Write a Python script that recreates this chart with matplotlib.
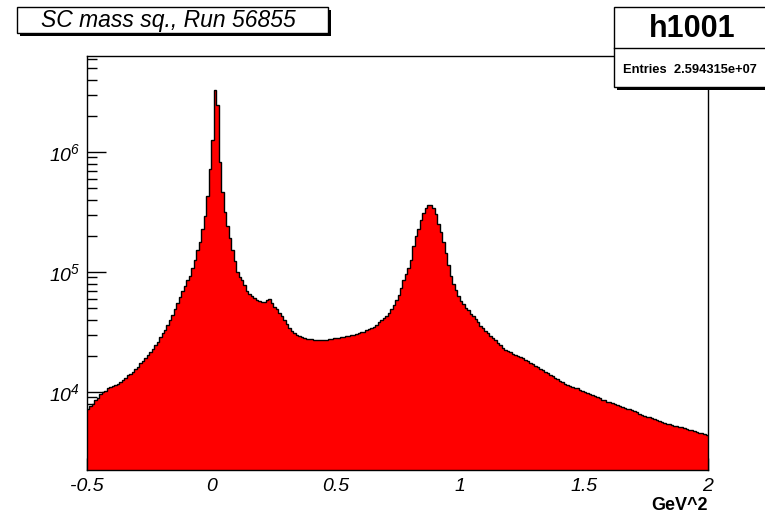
import matplotlib
matplotlib.use("Agg")
import matplotlib.pyplot as plt
import matplotlib.ticker as mticker
from matplotlib.patches import Rectangle
import numpy as np

plt.rcParams['font.family'] = ['Liberation Sans', 'DejaVu Sans']
plt.rcParams['mathtext.fontset'] = 'custom'
plt.rcParams['mathtext.it'] = 'Liberation Sans:italic'
plt.rcParams['mathtext.rm'] = 'Liberation Sans:italic'
plt.rcParams['mathtext.default'] = 'it'

# histogram h1001: 250 bins of 0.01 GeV^2 from -0.5 to 2, log10 of bin contents
x_low = -0.5
x_high = 2.0
log_counts = [
    3.86, 3.88, 3.90, 3.93, 3.95, 3.98, 4.00, 4.01, 4.03, 4.04,
    4.05, 4.06, 4.07, 4.08, 4.10, 4.12, 4.14, 4.15, 4.17, 4.19,
    4.21, 4.24, 4.26, 4.28, 4.31, 4.335, 4.36, 4.39, 4.42, 4.46,
    4.49, 4.52, 4.56, 4.60, 4.64, 4.69, 4.74, 4.79, 4.84, 4.88,
    4.93, 4.97, 5.03, 5.10, 5.18, 5.25, 5.36, 5.47, 5.63, 5.86,
    6.10, 6.52, 6.39, 5.92, 5.67, 5.50, 5.38, 5.28, 5.18, 5.09,
    5.00, 4.96, 4.93, 4.89, 4.84, 4.82, 4.80, 4.78, 4.767, 4.76,
    4.75, 4.75, 4.767, 4.775, 4.74, 4.71, 4.69, 4.66, 4.63, 4.60,
    4.57, 4.53, 4.51, 4.49, 4.475, 4.465, 4.455, 4.447, 4.443, 4.44,
    4.438, 4.435, 4.433, 4.432, 4.432, 4.433, 4.435, 4.438, 4.442, 4.446,
    4.449, 4.453, 4.457, 4.461, 4.464, 4.468, 4.471, 4.475, 4.482, 4.489,
    4.496, 4.503, 4.513, 4.523, 4.533, 4.544, 4.56, 4.58, 4.60, 4.615,
    4.63, 4.66, 4.69, 4.725, 4.77, 4.81, 4.87, 4.93, 4.98, 5.03,
    5.10, 5.22, 5.30, 5.36, 5.43, 5.49, 5.53, 5.555, 5.56, 5.53,
    5.48, 5.40, 5.33, 5.25, 5.16, 5.06, 4.97, 4.90, 4.85, 4.80,
    4.76, 4.73, 4.70, 4.68, 4.65, 4.63, 4.61, 4.58, 4.55, 4.53,
    4.51, 4.49, 4.47, 4.45, 4.43, 4.41, 4.39, 4.37, 4.35, 4.34,
    4.33, 4.32, 4.31, 4.30, 4.29, 4.28, 4.27, 4.26, 4.24, 4.23,
    4.22, 4.21, 4.19, 4.18, 4.17, 4.16, 4.14, 4.13, 4.12, 4.11,
    4.09, 4.08, 4.07, 4.06, 4.05, 4.04, 4.035, 4.03, 4.02, 4.01,
    4.00, 3.99, 3.985, 3.975, 3.97, 3.96, 3.95, 3.935, 3.93, 3.92,
    3.915, 3.905, 3.90, 3.89, 3.885, 3.875, 3.87, 3.86, 3.855, 3.85,
    3.84, 3.83, 3.815, 3.81, 3.80, 3.795, 3.79, 3.78, 3.775, 3.765,
    3.76, 3.75, 3.745, 3.735, 3.73, 3.725, 3.72, 3.715, 3.71, 3.705,
    3.70, 3.69, 3.685, 3.68, 3.675, 3.67, 3.66, 3.655, 3.65, 3.64,
]
title = "SC mass sq., Run 56855"
hist_name = "h1001"
entries = "2.594315e+07"
x_label = "GeV^2"

counts = 10 ** np.array(log_counts)
edges = np.linspace(x_low, x_high, len(counts) + 1)

W, H = 765, 515
fig = plt.figure(figsize=(W / 100, H / 100), dpi=100)
ax = fig.add_axes([87 / W, 1 - 470 / H, (708 - 87) / W, (470 - 56) / H])

ax.stairs(counts, edges, baseline=1, fill=True, color='#ff0000', zorder=2)
ax.stairs(counts, edges, baseline=None, color='black', linewidth=1.0, zorder=3)

ax.set_yscale('log')
ax.set_xlim(x_low, x_high)
ax.set_ylim(10 ** 3.35, 10 ** 6.8)

ax.xaxis.set_major_locator(mticker.MultipleLocator(0.5))
ax.xaxis.set_minor_locator(mticker.MultipleLocator(0.1))
ax.xaxis.set_major_formatter(mticker.FuncFormatter(lambda v, p: '%g' % v))
ax.yaxis.set_major_locator(mticker.LogLocator(base=10, numticks=10))
ax.yaxis.set_minor_locator(mticker.LogLocator(base=10, subs=np.arange(2, 10), numticks=20))
ax.yaxis.set_major_formatter(mticker.FuncFormatter(
    lambda v, p: r'$\it{10^{%d}}$' % round(np.log10(v))))
ax.yaxis.set_minor_formatter(mticker.NullFormatter())

ax.tick_params(axis='x', which='major', direction='in', length=8.6, width=1, pad=6,
               labelsize=14, top=False)
ax.tick_params(axis='x', which='minor', direction='in', length=4.3, width=1, top=False)
ax.tick_params(axis='y', which='major', direction='in', length=13.5, width=1, pad=5,
               labelsize=14, right=False)
ax.tick_params(axis='y', which='minor', direction='in', length=7, width=1, right=False)
for lab in ax.get_xticklabels() + ax.get_yticklabels():
    lab.set_fontstyle('italic')

for s in ax.spines.values():
    s.set_linewidth(1)
    s.set_zorder(4)

fig.text(708 / W, 1 - 505 / H, x_label, ha='right', va='center', fontsize=13,
         fontweight='bold')

# title box with shadow
def px_rect(x0, y0, x1, y1, **kw):
    r = Rectangle((x0 / W, 1 - y1 / H), (x1 - x0) / W, (y1 - y0) / H,
                  transform=fig.transFigure, **kw)
    fig.patches.append(r)

px_rect(20, 10, 331, 36, facecolor='black', edgecolor='none', zorder=5)
px_rect(17, 7, 328, 33, facecolor='white', edgecolor='black', linewidth=1, zorder=6)
fig.text(168 / W, 1 - 20 / H, title, ha='center', va='center',
         fontsize=16.5, fontstyle='italic', zorder=7)

# stats box with shadow
px_rect(617, 10, 770, 90, facecolor='black', edgecolor='none', zorder=5)
px_rect(614, 7, 768, 87, facecolor='white', edgecolor='black', linewidth=1, zorder=6)
fig.add_artist(plt.Line2D([614 / W, 1], [1 - 48 / H, 1 - 48 / H], transform=fig.transFigure,
                          color='black', linewidth=1, zorder=7))
fig.text(692 / W, 1 - 29 / H, hist_name, ha='center', va='center', fontsize=22,
         fontweight='bold', zorder=7)
fig.text(690 / W, 1 - 70 / H, "Entries  " + entries, ha='center', va='center',
         fontsize=9.3, fontweight='bold', zorder=7)

fig.savefig('out.png', dpi=100, facecolor='white')
